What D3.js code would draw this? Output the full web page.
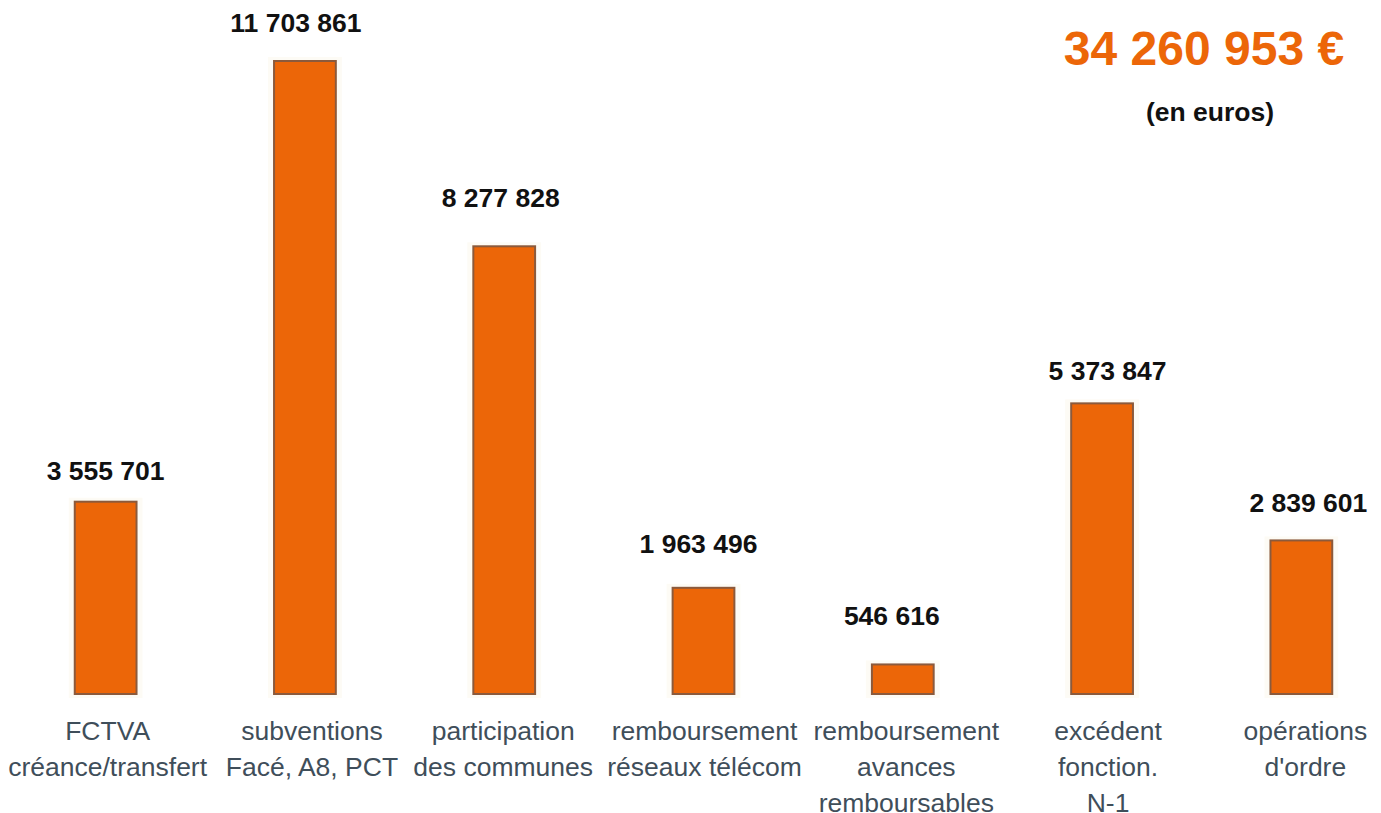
<!DOCTYPE html>
<html>
<head>
<meta charset="utf-8" />
<title>Recettes</title>
<script src="https://cdnjs.cloudflare.com/ajax/libs/d3/7.8.5/d3.min.js"></script>
<style>
  html, body { margin: 0; background: #fff; }
  svg { display: block; font-family: "Liberation Sans", Arial, sans-serif; }
</style>
</head>
<body>
<div id="chart"></div>
<script>
// data
var categories = [
  ["FCTVA", "créance/transfert"],
  ["subventions", "Facé, A8, PCT"],
  ["participation", "des communes"],
  ["remboursement", "réseaux télécom"],
  ["remboursement", "avances", "remboursables"],
  ["excédent", "fonction.", "N-1"],
  ["opérations", "d'ordre"]
];
var values = [3555701, 11703861, 8277828, 1963496, 546616, 5373847, 2839601];
var total = "34 260 953 €";
var unit = "(en euros)";

// hand-placed label nudges, as in the original layout
var valNudgeX = [0, -9, -3.5, -5, -11, 5.5, 7];
var valGap = [22, 29, 39, 35, 39, 23, 28];
var catNudgeX = [2, 7, -1, 1, 3.5, 6, 4];

var W = 1381, H = 813;
var svg = d3.select("#chart").append("svg").attr("width", W).attr("height", H);

var x = d3.scaleBand().domain(d3.range(values.length)).range([6, 1401])
  .paddingInner(0.69).paddingOuter(0.345);
var y = d3.scaleLinear().domain([0, d3.max(values)]).range([694, 61]);

var fmt = function(v) { return d3.format(",")(v).replace(/,/g, " "); };
var cx = function(i) { return x(i) + x.bandwidth() / 2; };

var g = svg.selectAll("g.bar").data(values).enter().append("g").attr("class", "bar");

// faint halo
g.append("rect")
  .attr("x", function(d, i) { return x(i) - 6; })
  .attr("y", function(d) { return y(d) - 4; })
  .attr("width", x.bandwidth() + 12)
  .attr("height", function(d) { return y(0) - y(d) + 8; })
  .attr("fill", "#fdfbf5");

g.append("rect")
  .attr("x", function(d, i) { return x(i); })
  .attr("y", function(d) { return y(d); })
  .attr("width", x.bandwidth())
  .attr("height", function(d) { return y(0) - y(d); })
  .attr("fill", "#ec6608")
  .attr("stroke", "#8b5a3c")
  .attr("stroke-width", 2);

g.append("text")
  .attr("x", function(d, i) { return cx(i) + valNudgeX[i]; })
  .attr("y", function(d, i) { return y(d) - valGap[i]; })
  .attr("text-anchor", "middle")
  .attr("font-size", 26.5)
  .attr("font-weight", "bold")
  .attr("fill", "#111")
  .text(fmt);

// category labels
categories.forEach(function(lines, i) {
  var t = svg.append("text")
    .attr("text-anchor", "middle")
    .attr("font-size", 26.5)
    .attr("fill", "#3f4e5a");
  lines.forEach(function(l, k) {
    t.append("tspan")
      .attr("x", cx(i) + catNudgeX[i])
      .attr("y", 739.5 + k * 36)
      .text(l);
  });
});

svg.append("text")
  .attr("x", 1204).attr("y", 65)
  .attr("text-anchor", "middle")
  .attr("font-size", 48)
  .attr("font-weight", "bold")
  .attr("fill", "#ec6608")
  .text(total);

svg.append("text")
  .attr("x", 1210).attr("y", 121)
  .attr("text-anchor", "middle")
  .attr("font-size", 26.5)
  .attr("font-weight", "bold")
  .attr("fill", "#111")
  .text(unit);
</script>
</body>
</html>
